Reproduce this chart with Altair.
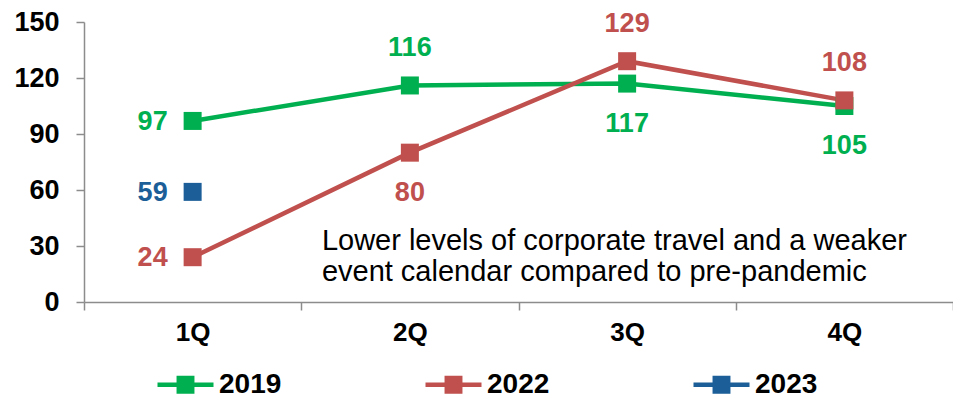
import altair as alt
import pandas as pd

quarters = ["1Q", "2Q", "3Q", "4Q"]
v2019 = [97, 116, 117, 105]
v2022 = [24, 80, 129, 108]
v2023 = [59]
series_names = ["2019", "2022", "2023"]
colors = ["#00B050", "#C0504D", "#1B5E98"]
y_ticks = [0, 30, 60, 90, 120, 150]
note_lines = ["Lower levels of corporate travel and a weaker",
              "event calendar compared to pre-pandemic"]

rows = []
for s, vals in zip(series_names, [v2019, v2022, v2023]):
    for q, v in zip(quarters, vals):
        rows.append({"series": s, "quarter": q, "value": v})
df = pd.DataFrame(rows)

FONT = "Liberation Sans"
AX = "#8C8C8C"

x_enc = alt.X(
    "quarter:N", sort=quarters, bandPosition=0.5,
    scale=alt.Scale(type="band", domain=quarters, paddingInner=0, paddingOuter=0),
    axis=alt.Axis(title=None, labelAngle=0, tickBand="extent", tickSize=8,
                  domainColor=AX, tickColor=AX, domainWidth=1.5, tickWidth=1.5,
                  labelFont=FONT, labelFontSize=26, labelFontWeight="bold",
                  labelColor="black", labelPadding=9),
)
y_enc = alt.Y(
    "value:Q", scale=alt.Scale(domain=[0, 150], nice=False),
    axis=alt.Axis(title=None, values=y_ticks, tickSize=8, domainColor=AX, tickColor=AX,
                  domainWidth=1.5, tickWidth=1.5, grid=False,
                  labelFont=FONT, labelFontSize=27, labelFontWeight="bold",
                  labelColor="black", labelPadding=17),
)
color_scale = alt.Scale(domain=series_names, range=colors)

# legend symbol: a line with a square drawn from stacked strokes
legend_path = ("M-1,0H1"
               "M-0.32,-0.24H0.32M-0.32,-0.08H0.32"
               "M-0.32,0.08H0.32M-0.32,0.24H0.32")
legend = alt.Legend(
    orient="none", legendX=71, legendY=332, direction="horizontal", title=None,
    symbolType=legend_path, symbolSize=3136,
    symbolStrokeWidth=4.6, symbolOpacity=1, labelFont=FONT, labelFontSize=28,
    labelFontWeight="bold", labelColor="black", labelOffset=3, columnPadding=134,
    padding=0,
)

base = alt.Chart(df)

lines = base.mark_line(strokeWidth=4.5).encode(
    x=x_enc, y=y_enc,
    color=alt.Color("series:N", scale=color_scale, legend=legend),
    detail="series:N",
)

points = base.mark_point(shape="square", filled=True, size=324, opacity=1).encode(
    x=x_enc, y=y_enc,
    color=alt.Color("series:N", scale=color_scale, legend=None),
)

def labels(filter_expr, dx=0, dy=0):
    return base.transform_filter(filter_expr).mark_text(
        font=FONT, fontSize=27, fontWeight="bold", dx=dx, dy=dy,
        align="center", baseline="middle",
    ).encode(
        x=x_enc, y=y_enc, text="value:Q",
        color=alt.Color("series:N", scale=color_scale, legend=None),
    )

left_lbl = labels("datum.quarter == '1Q'", dx=-40, dy=1)
above_lbl = labels(
    "(datum.series == '2019' && datum.quarter == '2Q') || "
    "(datum.series == '2022' && (datum.quarter == '3Q' || datum.quarter == '4Q'))",
    dy=-37)
below_lbl = labels(
    "(datum.series == '2022' && datum.quarter == '2Q') || "
    "(datum.series == '2019' && (datum.quarter == '3Q' || datum.quarter == '4Q'))",
    dy=40)

note = alt.Chart(pd.DataFrame({"note": ["\n".join(note_lines)]})).mark_text(
    font=FONT, fontSize=29, align="left", baseline="alphabetic",
    lineBreak="\n", lineHeight=31, dx=-88, color="black",
).encode(x=alt.datum("2Q"), y=alt.datum(28), text="note:N")

chart = alt.layer(lines, points, left_lbl, above_lbl, below_lbl, note).properties(
    width=869, height=280,
    autosize=alt.AutoSizeParams(type="none"),
    padding={"left": 84, "top": 22, "right": 0, "bottom": 97},
).resolve_legend(color="independent").configure_view(stroke=None).configure_axis(grid=False)

chart.save("out.html", embed_options={"renderer": "svg", "actions": False})
